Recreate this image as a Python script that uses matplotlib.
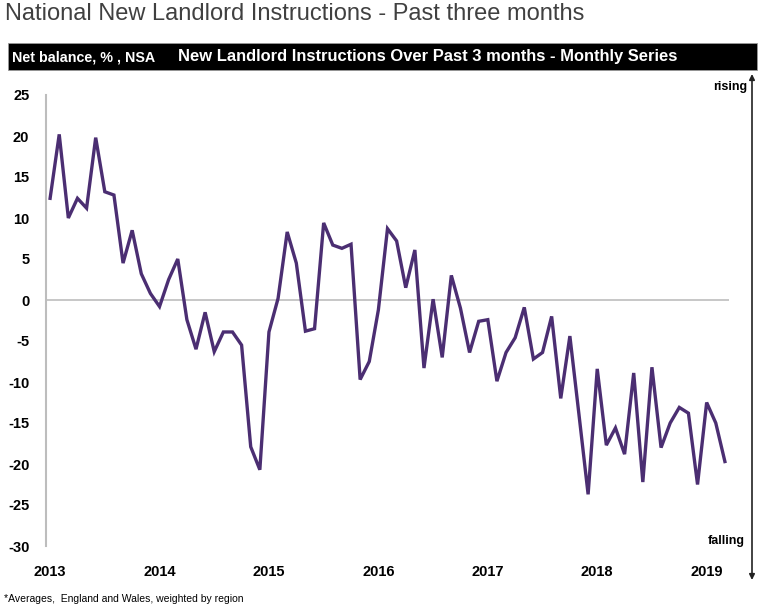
import matplotlib
matplotlib.use("Agg")
import matplotlib.pyplot as plt
from matplotlib.patches import Rectangle, FancyArrowPatch

# Net balance (%), monthly Jan 2013 - Mar 2019
values = [
    12.4, 20.2, 10.0, 12.4, 11.2, 19.8, 13.2, 12.8, 4.5, 8.5, 3.2, 0.8,      # 2013
    -0.8, 2.5, 5.0, -2.4, -6.0, -1.5, -6.3, -3.9, -3.9, -5.5, -17.9, -20.7,  # 2014
    -3.9, 0.2, 8.3, 4.5, -3.8, -3.5, 9.4, 6.7, 6.3, 6.8, -9.7, -7.5,         # 2015
    -1.2, 8.7, 7.2, 1.5, 6.1, -8.3, 0.1, -7.0, 3.0, -1.0, -6.4, -2.6,        # 2016
    -2.4, -9.9, -6.4, -4.6, -0.9, -7.2, -6.4, -2.0, -12.0, -4.4, -14.0, -23.7,  # 2017
    -8.4, -17.7, -15.6, -18.8, -8.9, -22.2, -8.2, -18.0, -15.0, -13.1, -13.8, -22.5,  # 2018
    -12.5, -15.0, -19.7,                                                     # 2019
]
year_labels = ["2013", "2014", "2015", "2016", "2017", "2018", "2019"]
y_ticks = [25, 20, 15, 10, 5, 0, -5, -10, -15, -20, -25, -30]

title = "National New Landlord Instructions - Past three months"
bar_left = "Net balance, % , NSA"
bar_right = "New Landlord Instructions Over Past 3 months - Monthly Series"
footnote = "*Averages,  England and Wales, weighted by region"

plt.rcParams['font.family'] = ['Liberation Sans', 'DejaVu Sans']

W, H = 768, 613
fig = plt.figure(figsize=(W / 100, H / 100), dpi=100)
ax = fig.add_axes([46 / W, 1 - 546 / H, (729 - 46) / W, (546 - 95) / H])

x = list(range(len(values)))
ax.plot(x, values, color='#4b2e72', lw=2.4, solid_joinstyle='miter', zorder=3)
ax.axhline(0, color='#bdbdbd', lw=1.2, zorder=1)

ax.set_xlim(-0.45, 74.45)
ax.set_ylim(-30, 25)
ax.set_yticks(y_ticks)
ax.set_yticklabels([str(t) for t in y_ticks], fontsize=10.5, fontweight='bold')
ax.set_xticks([12 * i for i in range(len(year_labels))])
ax.set_xticklabels(year_labels, fontsize=10.5, fontweight='bold')
ax.tick_params(axis='both', length=0)
ax.tick_params(axis='y', pad=12)
ax.tick_params(axis='x', pad=14)
for s in ['top', 'right', 'bottom']:
    ax.spines[s].set_visible(False)
ax.spines['left'].set_color('#bdbdbd')
ax.spines['left'].set_linewidth(1.5)

# title
fig.text(5 / W, 1 - 14 / H, title, fontsize=17, color='#404040', va='center', ha='left')

# black header bar
fig.patches.append(Rectangle((8 / W, 1 - 70 / H), (757 - 8) / W, 27 / H,
                             transform=fig.transFigure, facecolor='black',
                             edgecolor='#999999', lw=0.6))
fig.text(12 / W, 1 - 57 / H, bar_left, fontsize=10.3, fontweight='bold',
         color='white', va='center', ha='left')
fig.text(178 / W, 1 - 57 / H, bar_right, fontsize=11.9, fontweight='bold',
         color='white', va='center', ha='left')

# rising / falling arrow
arr = FancyArrowPatch((752 / W, 1 - 580 / H), (752 / W, 1 - 74 / H),
                      transform=fig.transFigure, arrowstyle='<|-|>', mutation_scale=8,
                      color='#222222', lw=1.2, shrinkA=0, shrinkB=0)
fig.patches.append(arr)
fig.text(747 / W, 1 - 87 / H, "rising", fontsize=9, fontweight='bold',
         va='center', ha='right')
fig.text(745 / W, 1 - 541 / H, "falling", fontsize=9, fontweight='bold',
         va='center', ha='right')

fig.text(4 / W, 1 - 599 / H, footnote, fontsize=7.5, va='center', ha='left')

fig.savefig("out.png", dpi=100)
